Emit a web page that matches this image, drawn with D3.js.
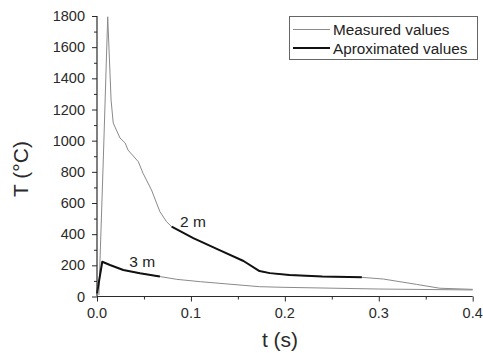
<!DOCTYPE html>
<html>
<head>
<meta charset="utf-8">
<script src="https://cdn.jsdelivr.net/npm/d3@7"></script>
<style>
  body { margin: 0; background: #fff; }
  svg { display: block; font-family: "Liberation Sans", Arial, sans-serif; }
</style>
</head>
<body>
<svg id="chart" width="483" height="353"></svg>
<script>
/* ---------- Data ---------- */
// measured at 2 m: [t (s), T (°C)]
const measured2m = [
  [0.002, 10], [0.0067, 876], [0.0114, 1795], [0.015, 1260], [0.0173, 1113],
  [0.0245, 1017], [0.030, 985], [0.033, 940], [0.044, 865], [0.049, 791],
  [0.058, 684], [0.067, 544], [0.074, 480], [0.0795, 448], [0.1025, 375],
  [0.131, 296], [0.156, 228], [0.173, 163], [0.184, 150], [0.205, 138],
  [0.24, 128], [0.282, 123], [0.305, 112], [0.340, 78], [0.365, 53], [0.4, 46]
];
// measured at 3 m
const measured3m = [
  [0.0, 20], [0.0056, 223], [0.0138, 202], [0.028, 170], [0.0457, 149],
  [0.0635, 132], [0.067, 128], [0.085, 110], [0.11, 95], [0.173, 63],
  [0.198, 59], [0.3, 48], [0.4, 42]
];
// approximated at 2 m
const approx2m = [
  [0.0795, 448], [0.1025, 375], [0.131, 296], [0.156, 228], [0.173, 163],
  [0.184, 150], [0.205, 138], [0.24, 128], [0.282, 123]
];
// approximated at 3 m
const approx3m = [
  [0.0, 20], [0.0056, 223], [0.0138, 202], [0.028, 170], [0.0457, 149],
  [0.0635, 132], [0.067, 128]
];
const curveLabels = [
  { text: "2 m", t: 0.0885, T: 443 },
  { text: "3 m", t: 0.0344, T: 191 }
];
const legendItems = ["Measured values", "Aproximated values"];
const xTicks = [0, 0.1, 0.2, 0.3, 0.4];
const yTicks = [0, 200, 400, 600, 800, 1000, 1200, 1400, 1600, 1800];

/* ---------- Layout ---------- */
const svg = d3.select("#chart");
const x = d3.scaleLinear().domain([0, 0.4]).range([97, 472.7]);
const y = d3.scaleLinear().domain([0, 1800]).range([296.5, 16]);
const axisCol = "#2a2a2a";

const line = d3.line().x(d => x(d[0])).y(d => y(d[1]));

// measured lines
svg.selectAll("path.meas")
  .data([measured2m, measured3m])
  .join("path")
  .attr("class", "meas")
  .attr("d", line)
  .attr("fill", "none")
  .attr("stroke", "#8a8a8a")
  .attr("stroke-width", 1);

// approximated lines
svg.selectAll("path.appr")
  .data([approx2m, approx3m])
  .join("path")
  .attr("class", "appr")
  .attr("d", line)
  .attr("fill", "none")
  .attr("stroke", "#111")
  .attr("stroke-width", 2)
  .attr("stroke-linejoin", "round");

/* ---------- Axes ---------- */
const xAxis = svg.append("g").attr("transform", `translate(0,${y(0)})`);
xAxis.call(d3.axisBottom(x).tickValues(d3.range(0, 0.401, 0.05)).tickSize(5).tickFormat(""));
xAxis.call(g => g.select(".domain").remove());
xAxis.append("line").attr("x1", x(0)).attr("x2", x(0.4)).attr("stroke", axisCol).attr("stroke-width", 1.2);
xAxis.selectAll(".tick line").attr("stroke", axisCol).attr("y2", (d, i) => i % 2 ? 3 : 5);
xAxis.selectAll("text.lbl")
  .data(xTicks)
  .join("text")
  .attr("class", "lbl")
  .attr("x", d => x(d))
  .attr("y", 21)
  .attr("text-anchor", "middle")
  .attr("font-size", 14.5)
  .attr("fill", axisCol)
  .text(d3.format(".1f"));

const yAxis = svg.append("g").attr("transform", `translate(${x(0)},0)`);
yAxis.call(d3.axisLeft(y).tickValues(d3.range(0, 1801, 100)).tickSize(5).tickFormat(""));
yAxis.call(g => g.select(".domain").remove());
yAxis.append("line").attr("y1", y(0)).attr("y2", y(1800)).attr("stroke", axisCol).attr("stroke-width", 1.2);
yAxis.selectAll(".tick line").attr("stroke", axisCol).attr("x2", (d, i) => i % 2 ? -3 : -5);
yAxis.selectAll("text.lbl")
  .data(yTicks)
  .join("text")
  .attr("class", "lbl")
  .attr("x", -12)
  .attr("y", d => y(d) + 5)
  .attr("text-anchor", "end")
  .attr("font-size", 14.5)
  .attr("fill", axisCol)
  .text(d => d);

// axis titles
svg.append("text")
  .attr("x", 280).attr("y", 347)
  .attr("text-anchor", "middle")
  .attr("font-size", 21)
  .attr("fill", axisCol)
  .text("t (s)");
svg.append("text")
  .attr("transform", "translate(28,169) rotate(-90)")
  .attr("text-anchor", "middle")
  .attr("font-size", 21)
  .attr("fill", axisCol)
  .text("T (°C)");

// curve labels
svg.selectAll("text.clab")
  .data(curveLabels)
  .join("text")
  .attr("class", "clab")
  .attr("x", d => x(d.t))
  .attr("y", d => y(d.T))
  .attr("font-size", 15.5)
  .attr("fill", "#222")
  .text(d => d.text);

/* ---------- Legend ---------- */
const lg = svg.append("g");
lg.append("rect")
  .attr("x", 289.5).attr("y", 16.5).attr("width", 188).attr("height", 43)
  .attr("fill", "#fff").attr("stroke", "#666").attr("stroke-width", 1);
legendItems.forEach((name, i) => {
  const ly = 29.5 + i * 18.5;
  lg.append("line")
    .attr("x1", 293).attr("x2", 330).attr("y1", ly).attr("y2", ly)
    .attr("stroke", i ? "#111" : "#8a8a8a")
    .attr("stroke-width", i ? 2 : 1);
  lg.append("text")
    .attr("x", 333).attr("y", ly + 5.5)
    .attr("font-size", 15.3)
    .attr("fill", "#222")
    .text(name);
});
</script>
</body>
</html>
